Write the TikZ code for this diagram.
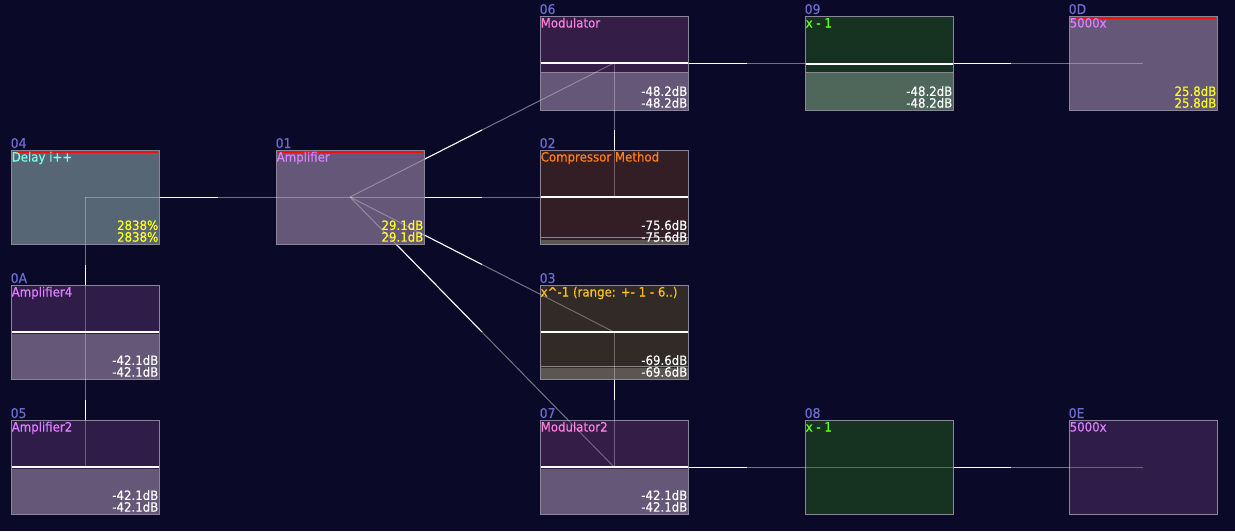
\documentclass[tikz,border=0pt]{standalone}
\usepackage{fontspec}
\setmainfont{DejaVu Sans}
\newfontfamily\pixfont[FakeStretch=0.92,FakeBold=0.4]{DejaVu Sans}
\usetikzlibrary{calc}

\definecolor{bgnavy}{HTML}{0A0A28}
\definecolor{boxline}{HTML}{8A8698}
\definecolor{idblue}{HTML}{6C6CD0}
\definecolor{litpurple}{HTML}{655778}
\definecolor{dkpurple}{HTML}{2F1C48}
\definecolor{magpurple}{HTML}{341E47}
\definecolor{slateblue}{HTML}{566675}
\definecolor{dkgreen}{HTML}{163322}
\definecolor{litgreen}{HTML}{4F665A}
\definecolor{dkbrown}{HTML}{321E24}
\definecolor{dkumber}{HTML}{322A27}
\definecolor{stripgray}{HTML}{5C5652}
\definecolor{wiregray}{HTML}{34344E}
\definecolor{tcyan}{HTML}{7FFFDF}
\definecolor{tviolet}{HTML}{DF7FFF}
\definecolor{tpink}{HTML}{FF7FDF}
\definecolor{tgreen}{HTML}{5FFF1F}
\definecolor{torange}{HTML}{FF7F1F}
\definecolor{tamber}{HTML}{FFBF1F}
\definecolor{tyellow}{HTML}{FFFF1F}
\definecolor{peakred}{HTML}{F01010}

\pgfdeclarelayer{wires}
\pgfdeclarelayer{glow}
\pgfsetlayers{wires,main,glow}

\tikzset{
  unit/.style={draw=boxline, line width=1pt, minimum width=148pt, minimum height=94pt, inner sep=0pt},
  idtext/.style={font=\pixfont\fontsize{13.5}{13.5}\selectfont, text=idblue, inner sep=0pt, anchor=base west},
  unitname/.style={font=\pixfont\fontsize{12.8}{13}\selectfont, inner sep=0pt, anchor=base west},
  readout/.style={font=\pixfont\fontsize{12.8}{11.7}\selectfont, text=white, inner sep=0pt, anchor=south east, align=right},
  level/.style={white, line width=1.5pt},
  floor/.style={boxline, line width=0.8pt},
  peak/.style={peakred, line width=2pt},
  wirelit/.style={white, line width=1pt},
  wiredim/.style={wiregray, line width=1pt},
  wireglow/.style={white, opacity=0.3, line width=1pt}
}

% wire: bright half at the first unit, dim half at the second
\newcommand{\wire}[2]{%
  \begin{pgfonlayer}{wires}
    \draw[wiredim] (#1.center) -- (#2.center);
    \draw[wirelit] (#1.center) -- ($(#1.center)!.5!(#2.center)$);
  \end{pgfonlayer}
  \begin{pgfonlayer}{glow}
    \draw[wireglow] (#1.center) -- (#2.center);
  \end{pgfonlayer}}

\begin{document}
\begin{tikzpicture}[x=1pt,y=-1pt]
\useasboundingbox (0,0) rectangle (1235,531);
\begin{pgfonlayer}{wires}
  \fill[bgnavy] (0,0) rectangle (1235,531);
\end{pgfonlayer}

% units
\node[unit, fill=slateblue] (n04) at (85,197) {};
\node[unit, fill=litpurple] (n01) at (350,197) {};
\node[unit, fill=magpurple] (n06) at (614,63) {};
\node[unit, fill=dkgreen]   (n09) at (879,63) {};
\node[unit, fill=litpurple] (n0D) at (1143,63) {};
\node[unit, fill=dkbrown]   (n02) at (614,197) {};
\node[unit, fill=dkumber]   (n03) at (614,332) {};
\node[unit, fill=dkpurple]  (n0A) at (85,332) {};
\node[unit, fill=dkpurple]  (n05) at (85,467) {};
\node[unit, fill=magpurple] (n07) at (614,467) {};
\node[unit, fill=dkgreen]   (n08) at (879,467) {};
\node[unit, fill=dkpurple]  (n0E) at (1143,467) {};

% meters
\draw[peak] ([shift={(2,2.5)}]n04.north west) -- ([shift={(-2,2.5)}]n04.north east);
\draw[peak] ([shift={(2,2.5)}]n01.north west) -- ([shift={(-2,2.5)}]n01.north east);
\draw[peak] ([shift={(2,2.5)}]n0D.north west) -- ([shift={(-2,2.5)}]n0D.north east);

\fill[litpurple] ([shift={(1,9)}]n06.west) rectangle ([shift={(-1,-1)}]n06.south east);
\draw[floor] ([shift={(1,9)}]n06.west) -- ([shift={(-1,9)}]n06.east);
\draw[level] ([xshift=1]n06.west) -- ([xshift=-1]n06.east);

\fill[litgreen] ([shift={(1,9)}]n09.west) rectangle ([shift={(-1,-1)}]n09.south east);
\draw[floor] ([shift={(1,9)}]n09.west) -- ([shift={(-1,9)}]n09.east);
\draw[level] ([shift={(1,1)}]n09.west) -- ([shift={(-1,1)}]n09.east);

\draw[level] ([xshift=1]n02.west) -- ([xshift=-1]n02.east);
\draw[floor] ([shift={(1,40)}]n02.west) -- ([shift={(-1,40)}]n02.east);
\fill[stripgray] ([shift={(1,43)}]n02.west) rectangle ([shift={(-1,-1)}]n02.south east);

\draw[level] ([xshift=1]n03.west) -- ([xshift=-1]n03.east);
\draw[floor] ([shift={(1,34)}]n03.west) -- ([shift={(-1,34)}]n03.east);
\fill[stripgray] ([shift={(1,36)}]n03.west) rectangle ([shift={(-1,-1)}]n03.south east);

\fill[litpurple] ([shift={(1,2)}]n0A.west) rectangle ([shift={(-1,-1)}]n0A.south east);
\draw[level] ([xshift=1]n0A.west) -- ([xshift=-1]n0A.east);

\fill[litpurple] ([shift={(1,2)}]n05.west) rectangle ([shift={(-1,-1)}]n05.south east);
\draw[level] ([xshift=1]n05.west) -- ([xshift=-1]n05.east);

\fill[litpurple] ([shift={(1,2)}]n07.west) rectangle ([shift={(-1,-1)}]n07.south east);
\draw[level] ([xshift=1]n07.west) -- ([xshift=-1]n07.east);

% ids
\node[idtext] (i04) at ([shift={(0,-1.5)}]n04.north west) {04};
\node[idtext] (i01) at ([shift={(0,-1.5)}]n01.north west) {01};
\node[idtext] (i06) at ([shift={(0,-1.5)}]n06.north west) {06};
\node[idtext] (i09) at ([shift={(0,-1.5)}]n09.north west) {09};
\node[idtext] (i0D) at ([shift={(0,-1.5)}]n0D.north west) {0D};
\node[idtext] (i02) at ([shift={(0,-1.5)}]n02.north west) {02};
\node[idtext] (i03) at ([shift={(0,-1.5)}]n03.north west) {03};
\node[idtext] (i0A) at ([shift={(0,-1.5)}]n0A.north west) {0A};
\node[idtext] (i05) at ([shift={(0,-1.5)}]n05.north west) {05};
\node[idtext] (i07) at ([shift={(0,-1.5)}]n07.north west) {07};
\node[idtext] (i08) at ([shift={(0,-1.5)}]n08.north west) {08};
\node[idtext] (i0E) at ([shift={(0,-1.5)}]n0E.north west) {0E};

% names
\node[unitname, text=tcyan]   (t04) at ([shift={(1,12)}]n04.north west) {Delay i++};
\node[unitname, text=tviolet] (t01) at ([shift={(1,12)}]n01.north west) {Amplifier};
\node[unitname, text=tpink]   (t06) at ([shift={(1,12)}]n06.north west) {Modulator};
\node[unitname, text=tgreen]  (t09) at ([shift={(1,12)}]n09.north west) {x - 1};
\node[unitname, text=tviolet] (t0D) at ([shift={(1,12)}]n0D.north west) {5000x};
\node[unitname, text=torange] (t02) at ([shift={(1,12)}]n02.north west) {Compressor Method};
\node[unitname, text=tamber]  (t03) at ([shift={(1,12)}]n03.north west) {x\textasciicircum-1 (range: +- 1 - 6..)};
\node[unitname, text=tviolet] (t0A) at ([shift={(1,12)}]n0A.north west) {Amplifier4};
\node[unitname, text=tviolet] (t05) at ([shift={(1,12)}]n05.north west) {Amplifier2};
\node[unitname, text=tpink]   (t07) at ([shift={(1,12)}]n07.north west) {Modulator2};
\node[unitname, text=tgreen]  (t08) at ([shift={(1,12)}]n08.north west) {x - 1};
\node[unitname, text=tviolet] (t0E) at ([shift={(1,12)}]n0E.north west) {5000x};

% readouts
\node[readout, text=tyellow] (v04) at ([shift={(-1,-2.5)}]n04.south east) {2838\%\\2838\%};
\node[readout, text=tyellow] (v01) at ([shift={(-1,-2.5)}]n01.south east) {29.1dB\\29.1dB};
\node[readout] (v06) at ([shift={(-1,-2.5)}]n06.south east) {-48.2dB\\-48.2dB};
\node[readout] (v09) at ([shift={(-1,-2.5)}]n09.south east) {-48.2dB\\-48.2dB};
\node[readout, text=tyellow] (v0D) at ([shift={(-1,-2.5)}]n0D.south east) {25.8dB\\25.8dB};
\node[readout] (v02) at ([shift={(-1,-2.5)}]n02.south east) {-75.6dB\\-75.6dB};
\node[readout] (v03) at ([shift={(-1,-2.5)}]n03.south east) {-69.6dB\\-69.6dB};
\node[readout] (v0A) at ([shift={(-1,-2.5)}]n0A.south east) {-42.1dB\\-42.1dB};
\node[readout] (v05) at ([shift={(-1,-2.5)}]n05.south east) {-42.1dB\\-42.1dB};
\node[readout] (v07) at ([shift={(-1,-2.5)}]n07.south east) {-42.1dB\\-42.1dB};

% wires
\wire{n04}{n01}
\wire{n0A}{n04}
\wire{n05}{n0A}
\wire{n01}{n02}
\wire{n01}{n06}
\wire{n01}{n03}
\wire{n01}{n07}
\wire{n02}{n06}
\wire{n03}{n07}
\wire{n06}{n09}
\wire{n09}{n0D}
\wire{n07}{n08}
\wire{n08}{n0E}
\end{tikzpicture}
\end{document}
